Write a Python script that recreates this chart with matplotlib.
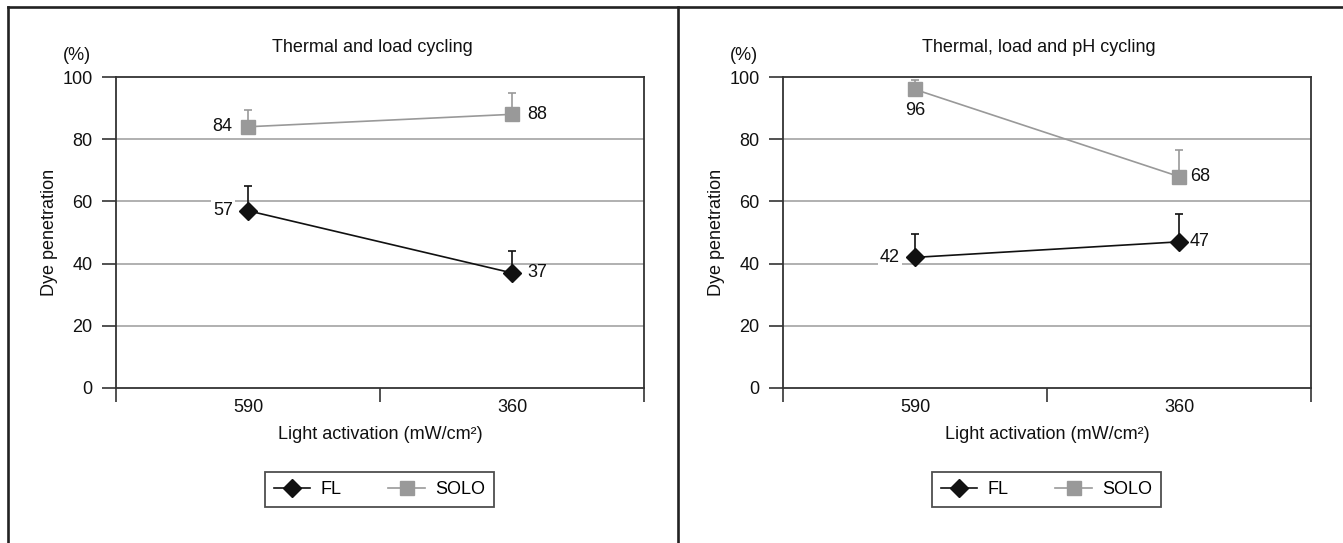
import matplotlib
matplotlib.use("Agg")
import matplotlib.pyplot as plt
from matplotlib.lines import Line2D

# ---- data ----
categories = ["590", "360"]
titles = ["Thermal and load cycling", "Thermal, load and pH cycling"]
fl_values = [[57, 37], [42, 47]]
fl_errors = [[8, 7], [7.5, 9]]
solo_values = [[84, 88], [96, 68]]
solo_errors = [[5.5, 7], [3, 8.5]]
y_ticks = [0, 20, 40, 60, 80, 100]
series_names = ["FL", "SOLO"]
# label placement per panel
fl_label_pos = [["left", "right"], ["left", "near"]]
solo_label_pos = [["left", "right"], ["below", "near"]]

plt.rcParams['font.family'] = ['Liberation Sans', 'DejaVu Sans']

W, H = 1343, 543
fig = plt.figure(figsize=(W / 100, H / 100), dpi=100)

FL_COLOR = "#111111"
SOLO_COLOR = "#999999"
GRID_COLOR = "#aaaaaa"
SPINE_COLOR = "#333333"
FS = 13

def px_x(x):
    return x / W

def px_y(y):
    return 1 - y / H

axes_left_px = [116, 783]
ax_w_px = 528
ax_top_px, ax_bot_px = 77, 388

def place_label(ax, x, y, txt, pos):
    off = {"left": (-11, 0, "right", "center"),
           "right": (11, 0, "left", "center"),
           "near": (8, 0, "left", "center"),
           "below": (0, -9, "center", "top")}[pos]
    ax.annotate(txt, (x, y), xytext=(off[0], off[1]), textcoords="offset points",
                ha=off[2], va=off[3], fontsize=FS, color="#111111", zorder=6,
                bbox=dict(boxstyle="square,pad=0.1", fc="white", ec="none") if pos == "left" else None)

for i in range(2):
    l = axes_left_px[i]
    ax = fig.add_axes([px_x(l), px_y(ax_bot_px), ax_w_px / W, (ax_bot_px - ax_top_px) / H])
    xs = list(range(len(categories)))
    ax.set_xlim(-0.5, 1.5)
    ax.set_ylim(0, 100)
    for y in y_ticks[1:-1]:
        ax.axhline(y, color=GRID_COLOR, lw=1.3, zorder=1)
    for s in ["left", "top", "right", "bottom"]:
        ax.spines[s].set_color(SPINE_COLOR)
        ax.spines[s].set_linewidth(1.3)
        ax.spines[s].set_zorder(2)

    ax.errorbar(xs, solo_values[i], yerr=[[0, 0], solo_errors[i]], color=SOLO_COLOR,
                lw=1.2, marker="s", ms=10.5, mfc=SOLO_COLOR, mec=SOLO_COLOR,
                ecolor=SOLO_COLOR, elinewidth=1.2, capsize=3, capthick=1.2, zorder=4,
                label=series_names[1])
    ax.errorbar(xs, fl_values[i], yerr=[[0, 0], fl_errors[i]], color=FL_COLOR,
                lw=1.2, marker="D", ms=8.8, mfc=FL_COLOR, mec=FL_COLOR,
                ecolor=FL_COLOR, elinewidth=1.2, capsize=3, capthick=1.2, zorder=5,
                label=series_names[0])

    for j, x in enumerate(xs):
        place_label(ax, x, fl_values[i][j], str(fl_values[i][j]), fl_label_pos[i][j])
        place_label(ax, x, solo_values[i][j], str(solo_values[i][j]), solo_label_pos[i][j])

    ax.set_yticks(y_ticks)
    ax.set_yticklabels([str(v) for v in y_ticks], fontsize=FS, color="#111111")
    ax.tick_params(axis="y", direction="out", length=10, width=1.2, color=SPINE_COLOR, pad=7)
    ax.set_xticks([-0.5, 0.5, 1.5])
    ax.set_xticklabels(["", "", ""])
    ax.tick_params(axis="x", which="major", direction="out", length=10, width=1.2, color=SPINE_COLOR)
    ax.set_xticks(xs, minor=True)
    ax.set_xticklabels(categories, minor=True, fontsize=FS, color="#111111")
    ax.tick_params(axis="x", which="minor", length=0, pad=8)

    ax.set_xlabel("Light activation (mW/cm²)", fontsize=FS, color="#111111", labelpad=7)
    ax.set_ylabel("Dye penetration", fontsize=FS, color="#111111", labelpad=3)
    ax.text(0.485, 1.0 + (ax_top_px - 47) / (ax_bot_px - ax_top_px), titles[i],
            transform=ax.transAxes, ha="center", va="center", fontsize=FS, color="#111111")
    ax.text(-39 / ax_w_px, 1.0 + (ax_top_px - 56) / (ax_bot_px - ax_top_px), "(%)",
            transform=ax.transAxes, ha="center", va="center", fontsize=FS, color="#111111")

    handles = [Line2D([], [], color=FL_COLOR, lw=1.2, marker="D", ms=9, mfc=FL_COLOR, mec=FL_COLOR),
               Line2D([], [], color=SOLO_COLOR, lw=1.2, marker="s", ms=10, mfc=SOLO_COLOR, mec=SOLO_COLOR)]
    leg_cx = l + 263.5
    leg = fig.legend(handles, series_names, loc="center",
                     bbox_to_anchor=(px_x(leg_cx), px_y(489.5)), ncol=2,
                     fontsize=FS, frameon=True, fancybox=False, handlelength=2.0,
                     columnspacing=2.6, handletextpad=0.6, borderpad=0.5, borderaxespad=0)
    leg.get_frame().set_edgecolor("#222222")
    leg.get_frame().set_linewidth(1.3)

# panel borders
bc = "#222222"
fig.add_artist(Line2D([px_x(8), px_x(8)], [px_y(7), 0], color=bc, lw=1.9, transform=fig.transFigure))
fig.add_artist(Line2D([px_x(8), 1], [px_y(7), px_y(7)], color=bc, lw=1.9, transform=fig.transFigure))
fig.add_artist(Line2D([px_x(678), px_x(678)], [px_y(7), 0], color=bc, lw=1.9, transform=fig.transFigure))

fig.savefig("out.png", dpi=100)
